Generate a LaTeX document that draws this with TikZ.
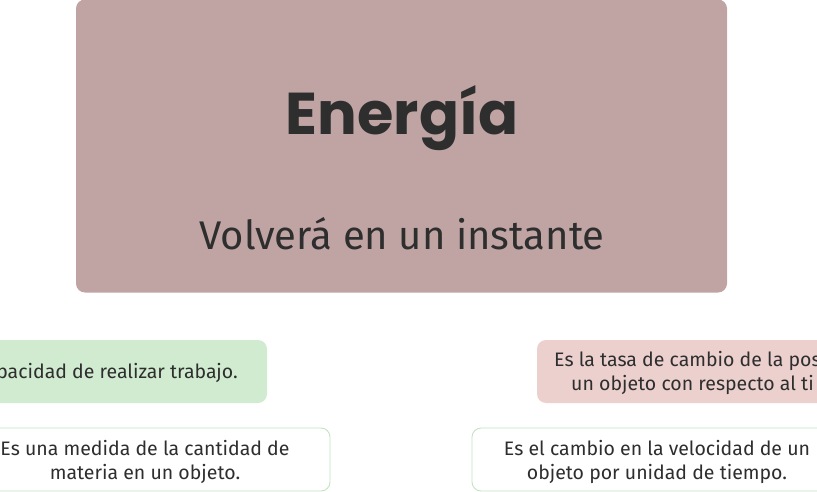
\documentclass[tikz,border=0pt]{standalone}
\usepackage{fontspec}
\setmainfont{Fira Sans}
\newfontfamily\titlefont{Poppins}
\definecolor{mauve}{HTML}{C0A4A4}
\definecolor{mint}{HTML}{D0EBD0}
\definecolor{blush}{HTML}{EBD0CE}
\definecolor{mintline}{HTML}{C4E4C4}
\definecolor{ink}{HTML}{2E2E2E}

\begin{document}
\begin{tikzpicture}[x=1pt, y=-1pt, every node/.style={text=ink},
  card/.style={rectangle, rounded corners=9pt, inner sep=0pt},
  label/.style={inner sep=0pt, align=center, font=\fontsize{19.5}{24}\selectfont}]
  \useasboundingbox (0,0) rectangle (817,492);
  \clip (0,0) rectangle (817,492);
  % main card
  \node[card, fill=mauve, minimum width=651pt, minimum height=293pt] (main) at (401.5,146) {};
  \node[font=\titlefont\bfseries\fontsize{59}{59}\selectfont] (title) at (402,118) {Energía};
  \node[font=\fontsize{40}{42}\selectfont] (sub) at (402,234) {Volverá en un instante};
  % upper row
  \node[card, fill=mint, minimum width=330pt, minimum height=63pt] (work) at (102,371.5) {};
  \node[label, anchor=east] (worktxt) at (238,373) {pacidad de realizar trabajo.};
  \node[card, fill=blush, minimum width=330pt, minimum height=63pt] (speed) at (702,371.5) {};
  \node[label, anchor=west, align=left] (speedtxt) at (554,373)
    {Es la tasa de cambio de la pos\\\hspace*{17pt}un objeto con respecto al ti};
  % lower row
  \node[card, draw=mintline, line width=0.9pt, fill=white, minimum width=370pt, minimum height=63pt] (mass) at (145,459.5) {};
  \node[label] (masstxt) at (145,462) {Es una medida de la cantidad de\\materia en un objeto.};
  \node[card, draw=mintline, line width=0.9pt, fill=white, minimum width=370pt, minimum height=63pt] (accel) at (657,459.5) {};
  \node[label] (acceltxt) at (657,462) {Es el cambio en la velocidad de un\\objeto por unidad de tiempo.};
\end{tikzpicture}
\end{document}
